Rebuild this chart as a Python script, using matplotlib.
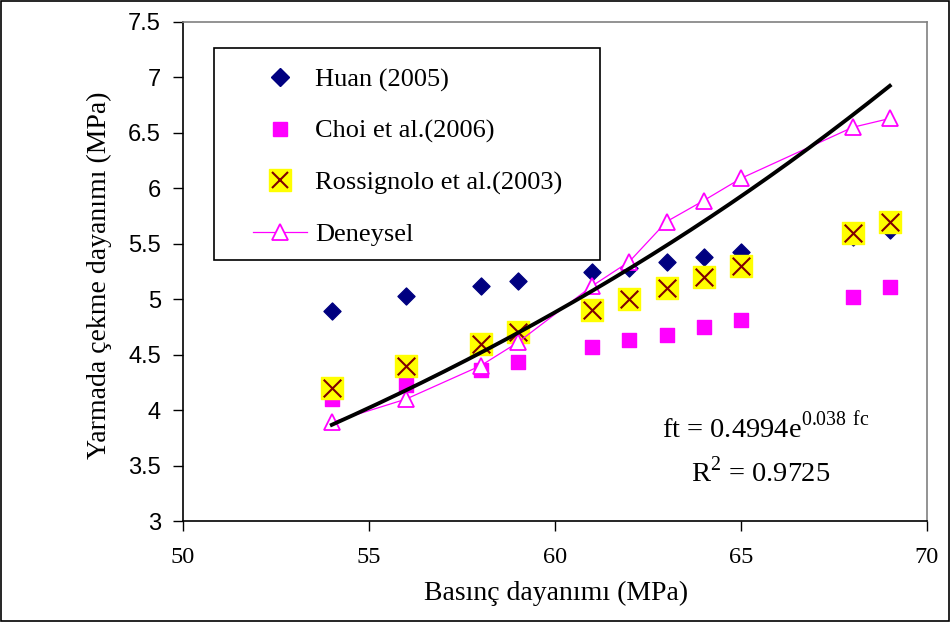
import numpy as np
import matplotlib
matplotlib.use("Agg")
import matplotlib.pyplot as plt
from matplotlib.lines import Line2D

plt.rcParams['mathtext.fontset'] = 'custom'
plt.rcParams['mathtext.rm'] = 'Liberation Serif'

x = [54, 56, 58, 59, 61, 62, 63, 64, 65, 68, 69]
huan = [4.89, 5.03, 5.12, 5.16, 5.25, 5.28, 5.34, 5.38, 5.43, 5.56, 5.62]
choi = [4.10, 4.23, 4.36, 4.43, 4.57, 4.63, 4.68, 4.75, 4.81, 5.02, 5.11]
rossignolo = [4.2, 4.4, 4.6, 4.7, 4.9, 5.0, 5.1, 5.2, 5.3, 5.6, 5.7]
deneysel = [3.89, 4.10, 4.40, 4.61, 5.12, 5.34, 5.70, 5.89, 6.09, 6.55, 6.63]

labels = ["Huan (2005)", "Choi et al.(2006)", "Rossignolo et al.(2003)", "Deneysel"]
xticks = [50, 55, 60, 65, 70]
yticks = [3, 3.5, 4, 4.5, 5, 5.5, 6, 6.5, 7, 7.5]
ytick_labels = ["3", "3.5", "4", "4.5", "5", "5.5", "6", "6.5", "7", "7.5"]

serif = 'Liberation Serif'
sans = 'Liberation Sans'

W, H = 951, 622
fig = plt.figure(figsize=(W/100, H/100), dpi=100)
ax = fig.add_axes([183/W, 1-521/H, 744/W, 499/H])

ax.scatter(x, huan, marker='D', s=75, color='#000080', zorder=3)
ax.scatter(x, choi, marker='s', s=95, color='#FF00FF', zorder=3)
ax.scatter(x, rossignolo, marker='s', s=240, color='#FFFF00', zorder=4)
ax.scatter(x, rossignolo, marker='x', s=160, color='#800000', linewidths=1.5, zorder=5)
ax.plot(x, deneysel, color='#FF00FF', lw=0.9, marker='^', ms=12,
        markerfacecolor='white', markeredgecolor='#FF00FF', markeredgewidth=1.3, zorder=6)

# exponential trendline fitted to experimental data
b, ln_a = np.polyfit(x, np.log(deneysel), 1)
xt = np.linspace(min(x), max(x), 200)
ax.plot(xt, np.exp(ln_a) * np.exp(b * xt), color='black', lw=2.8, zorder=7)

ax.set_xlim(50, 70)
ax.set_ylim(3, 7.5)
ax.set_xticks(xticks)
ax.set_xticklabels([str(v) for v in xticks], fontfamily=serif, fontsize=17.5)
ax.set_yticks(yticks)
ax.set_yticklabels(ytick_labels, fontfamily=sans, fontsize=17)
ax.tick_params(direction='out', length=7, width=1, color='black')
ax.tick_params(axis='x', pad=12)
ax.tick_params(axis='y', pad=9)

for s in ['left', 'bottom']:
    ax.spines[s].set_color('black')
    ax.spines[s].set_linewidth(1.2)
for s in ['top', 'right']:
    ax.spines[s].set_color('#808080')
    ax.spines[s].set_linewidth(1.2)

ax.set_xlabel("Basınç dayanımı (MPa)", fontfamily=serif, fontsize=20)
ax.set_ylabel("Yarmada çekme dayanımı (MPa)", fontfamily=serif, fontsize=20)
ax.xaxis.set_label_coords(0.501, -0.12)
ax.yaxis.set_label_coords(-0.0954, 0.493)

h1 = Line2D([], [], ls='none', marker='D', ms=9, color='#000080')
h2 = Line2D([], [], ls='none', marker='s', ms=10, color='#FF00FF')
h3a = Line2D([], [], ls='none', marker='s', ms=15.5, color='#FFFF00')
h3b = Line2D([], [], ls='none', marker='x', ms=12, color='#800000', markeredgewidth=1.5)
h4 = Line2D([], [], color='#FF00FF', lw=0.9, marker='^', ms=12,
            markerfacecolor='white', markeredgecolor='#FF00FF', markeredgewidth=1.3)
leg = ax.legend([h1, h2, (h3a, h3b), h4], labels, loc='upper left',
                bbox_to_anchor=(253/W, 1-68/H), bbox_transform=fig.transFigure,
                borderaxespad=0, borderpad=0, prop={'family': serif, 'size': 19},
                labelspacing=1.05, handlelength=2.05, handletextpad=0.3,
                frameon=False)
leg.set_zorder(10)
ax.add_patch(plt.Rectangle((214/W, 1-260/H), (600-214)/W, (260-48)/H,
                           transform=fig.transFigure, facecolor='white',
                           edgecolor='black', lw=1.2, zorder=9))

ax.text(62.88, 3.758, r"ft = 0.4994e$^{\mathrm{0.038\ fc}}$", fontfamily=serif, fontsize=20.5,
        ha='left', va='baseline', zorder=8)
ax.text(63.66, 3.352, r"R$^{\mathrm{2}}$ = 0.9725", fontfamily=serif, fontsize=20.5,
        ha='left', va='baseline', zorder=8)

fig.patches.append(plt.Rectangle((0.001, 0.002), 0.997, 0.996, transform=fig.transFigure,
                                 fill=False, edgecolor='black', lw=1.2))

fig.savefig("out.png", dpi=100)
